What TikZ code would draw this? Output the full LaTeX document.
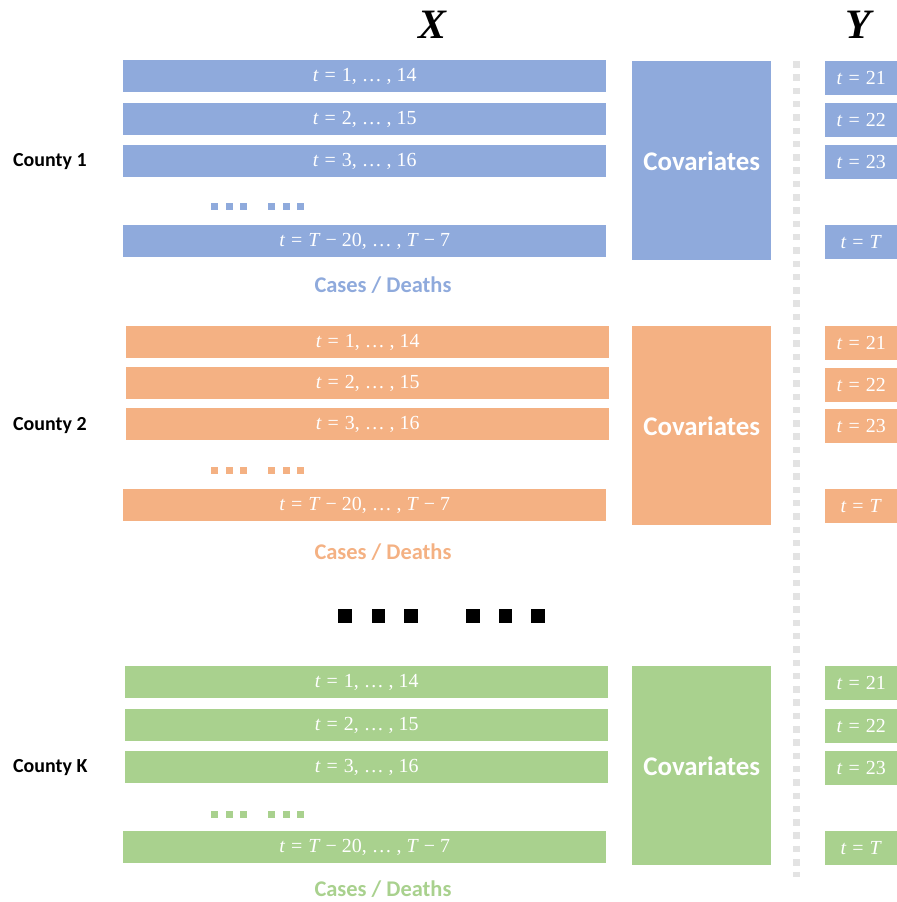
\documentclass[tikz,border=0pt]{standalone}
\usepackage[no-math]{fontspec}
\setmainfont{Carlito}
\newfontfamily\serfont{Liberation Serif}
\definecolor{cblue}{HTML}{8FAADC}
\definecolor{corange}{HTML}{F4B183}
\definecolor{cgreen}{HTML}{A9D18E}
\definecolor{sepgray}{HTML}{E3E3E3}
\newcommand{\vt}{\textit{t}}
\newcommand{\vT}{\textit{T}}
\newcommand{\eqs}{\hspace{0.3em}=\hspace{0.3em}}
\tikzset{
  xbar/.style={fill=#1, draw=none, inner sep=0pt, text=white, anchor=north west,
    minimum width=483bp, minimum height=32bp, font=\serfont\fontsize{20}{20}\selectfont},
  ybar/.style={fill=#1, draw=none, inner sep=0pt, text=white, anchor=north west,
    minimum width=72bp, minimum height=34bp, font=\serfont\fontsize{20}{20}\selectfont},
  covbox/.style={fill=#1, draw=none, inner sep=0pt, text=white, anchor=north west,
    minimum width=139bp, minimum height=199bp, font=\bfseries\fontsize{27}{27}\selectfont},
  county/.style={font=\bfseries\fontsize{20}{20}\selectfont, anchor=west, inner sep=0pt},
  cases/.style={text=#1, font=\bfseries\fontsize{22.5}{22.5}\selectfont, inner sep=0pt},
  head/.style={font=\serfont\bfseries\itshape\fontsize{42}{42}\selectfont, inner sep=0pt},
}
\newcommand{\dotrow}[2]{%
  \foreach \xx in {211,225.5,240,268,282.5,297}{\fill[#1] (\xx,#2-3.5) rectangle ++(7,7);}}
\begin{document}
\begin{tikzpicture}[x=1bp,y=-1bp]
\useasboundingbox (0,0) rectangle (897,902);
% headings
\node[head] (hx) at (432,25) {X};
\node[head] (hy) at (858,25) {Y};
% separator
\coordinate (vtop) at (796.5,61);
\coordinate (vbot) at (796.5,877);
\draw[sepgray, line width=6.5bp, dash pattern=on 6.5bp off 6.8bp] (vtop) -- (vbot);
% ---------- County 1 ----------
\node[county] (c1) at (13,162) {County 1};
\node[xbar=cblue] (a1) at (123,60) {\vt\eqs 1, … , 14};
\node[xbar=cblue] (a2) at (123,103) {\vt\eqs 2, … , 15};
\node[xbar=cblue] (a3) at (123,145) {\vt\eqs 3, … , 16};
\node[xbar=cblue] (a4) at (123,225) {\vt\eqs\vT{} − 20, … , \vT{} − 7};
\dotrow{cblue}{206.5}
\node[cases=cblue] (ca) at (383,285) {Cases / Deaths};
\node[covbox=cblue] (cva) at (632,61) {Covariates};
\node[ybar=cblue] (ya1) at (825,61) {\vt\eqs 21};
\node[ybar=cblue] (ya2) at (825,103) {\vt\eqs 22};
\node[ybar=cblue] (ya3) at (825,145) {\vt\eqs 23};
\node[ybar=cblue] (ya4) at (825,225) {\vt\eqs\vT};
% ---------- County 2 ----------
\node[county] (c2) at (13,426) {County 2};
\node[xbar=corange] (b1) at (126,326) {\vt\eqs 1, … , 14};
\node[xbar=corange] (b2) at (126,367) {\vt\eqs 2, … , 15};
\node[xbar=corange] (b3) at (126,408) {\vt\eqs 3, … , 16};
\node[xbar=corange] (b4) at (123,489) {\vt\eqs\vT{} − 20, … , \vT{} − 7};
\dotrow{corange}{470.5}
\node[cases=corange] (cb) at (383,552) {Cases / Deaths};
\node[covbox=corange] (cvb) at (632,326) {Covariates};
\node[ybar=corange] (yb1) at (825,326) {\vt\eqs 21};
\node[ybar=corange] (yb2) at (825,368) {\vt\eqs 22};
\node[ybar=corange] (yb3) at (825,409) {\vt\eqs 23};
\node[ybar=corange] (yb4) at (825,489) {\vt\eqs\vT};
% ---------- ellipsis ----------
\foreach \xx in {338,371.5,404,466,498.5,531}{\fill[black] (\xx,609) rectangle ++(13.5,13.5);}
% ---------- County K ----------
\node[county] (ck) at (13,768) {County K};
\node[xbar=cgreen] (g1) at (125,666) {\vt\eqs 1, … , 14};
\node[xbar=cgreen] (g2) at (125,709) {\vt\eqs 2, … , 15};
\node[xbar=cgreen] (g3) at (125,751) {\vt\eqs 3, … , 16};
\node[xbar=cgreen] (g4) at (123,831) {\vt\eqs\vT{} − 20, … , \vT{} − 7};
\dotrow{cgreen}{814.5}
\node[cases=cgreen] (cg) at (383,889.5) {Cases / Deaths};
\node[covbox=cgreen] (cvg) at (632,666) {Covariates};
\node[ybar=cgreen] (yg1) at (825,666) {\vt\eqs 21};
\node[ybar=cgreen] (yg2) at (825,709) {\vt\eqs 22};
\node[ybar=cgreen] (yg3) at (825,751) {\vt\eqs 23};
\node[ybar=cgreen] (yg4) at (825,831) {\vt\eqs\vT};
\end{tikzpicture}
\end{document}
